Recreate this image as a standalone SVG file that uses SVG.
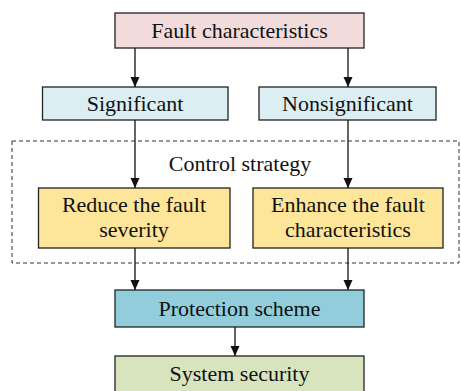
<svg xmlns="http://www.w3.org/2000/svg" width="461" height="391" viewBox="0 0 461 391" font-family="'Liberation Serif', 'Times New Roman', 'DejaVu Serif', serif">
<style>
.box{stroke:#222;stroke-width:1.3}
text{font-family:'Liberation Serif','Times New Roman','DejaVu Serif',serif;font-size:22px;fill:#111;text-anchor:middle}
.conn{stroke:#111;stroke-width:1.3;fill:none;marker-end:url(#ah)}
</style>
<defs>
<marker id="ah" viewBox="0 0 10 10" refX="10" refY="5" markerWidth="10" markerHeight="10" markerUnits="userSpaceOnUse" orient="auto">
<path d="M0,0.5 L10,5 L0,9.5 z" fill="#111"/>
</marker>
</defs>
<rect x="12" y="141" width="447" height="122" fill="none" stroke="#333" stroke-width="1" stroke-dasharray="4,3"/>
<text x="240" y="171">Control strategy</text>
<g id="fault"><rect class="box" x="115" y="13" width="249" height="35" fill="#f2dcdb"/><text x="239.5" y="37.5">Fault characteristics</text></g>
<g id="significant"><rect class="box" x="42.5" y="87" width="185.5" height="33" fill="#dbeef4"/><text x="135" y="110.5">Significant</text></g>
<g id="nonsignificant"><rect class="box" x="259" y="87" width="177" height="33" fill="#dbeef4"/><text x="347.5" y="110.5">Nonsignificant</text></g>
<g id="reduce"><rect class="box" x="38.5" y="188" width="191.5" height="60" fill="#fde59a"/><text x="134" y="212">Reduce the fault</text><text x="134" y="237">severity</text></g>
<g id="enhance"><rect class="box" x="253" y="188" width="190" height="60" fill="#fde59a"/><text x="348" y="212">Enhance the fault</text><text x="348" y="237">characteristics</text></g>
<g id="protection"><rect class="box" x="115" y="290" width="249" height="37" fill="#92cddc"/><text x="239.5" y="315.5">Protection scheme</text></g>
<g id="security"><rect class="box" x="115" y="356" width="249" height="36" fill="#d7e4bd"/><text x="239.5" y="381">System security</text></g>
<g id="connectors">
<line class="conn" x1="135" y1="48" x2="135" y2="87"/>
<line class="conn" x1="348" y1="48" x2="348" y2="87"/>
<line class="conn" x1="135" y1="120" x2="135" y2="188"/>
<line class="conn" x1="348" y1="120" x2="348" y2="188"/>
<line class="conn" x1="135" y1="248" x2="135" y2="290"/>
<line class="conn" x1="348" y1="248" x2="348" y2="290"/>
<line class="conn" x1="235" y1="327" x2="235" y2="356"/>
</g>
</svg>
